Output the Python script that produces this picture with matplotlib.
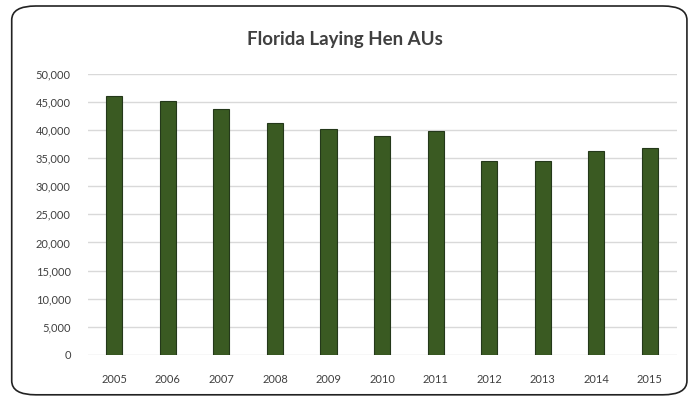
import matplotlib.pyplot as plt
from matplotlib.patches import FancyBboxPatch
from matplotlib.ticker import FuncFormatter

years = ['2005', '2006', '2007', '2008', '2009', '2010',
         '2011', '2012', '2013', '2014', '2015']
hen_aus = [46100, 45200, 43800, 41200, 40250, 38900,
           39850, 34500, 34500, 36350, 36750]

fig = plt.figure(figsize=(6.89, 4.0), dpi=100)

# rounded chart border like the spreadsheet export
border = FancyBboxPatch((0.017, 0.013), 0.98, 0.972,
                        boxstyle='round,pad=0,rounding_size=0.035',
                        transform=fig.transFigure, fill=False,
                        edgecolor='#222222', linewidth=1.2)
fig.patches.append(border)

ax = fig.add_axes([0.127, 0.113, 0.855, 0.702])
x = range(len(years))
ax.bar(x, hen_aus, width=0.3, color='#3a5a22', edgecolor='#24381a',
       linewidth=0.8, zorder=3)

ax.set_ylim(0, 50000)
ax.set_yticks(range(0, 50001, 5000))
ax.yaxis.set_major_formatter(FuncFormatter(lambda v, p: f'{int(v):,}'))
ax.set_xlim(-0.5, len(years) - 0.5)
ax.set_xticks(list(x))
ax.set_xticklabels(years)

ax.grid(axis='y', color='#d9d9d9', linewidth=1.0, zorder=0)
for s in ax.spines.values():
    s.set_visible(False)
ax.tick_params(length=0, labelsize=8, colors='#404040')
ax.tick_params(axis='x', pad=14)
ax.tick_params(axis='y', pad=12)
for lab in ax.get_xticklabels() + ax.get_yticklabels():
    lab.set_fontfamily('Lato')

fig.text(0.5, 0.9, 'Florida Laying Hen AUs', ha='center', va='center',
         fontsize=13.5, color='#404040', fontfamily='Lato', fontweight='bold')

fig.savefig('out.png', dpi=100)
